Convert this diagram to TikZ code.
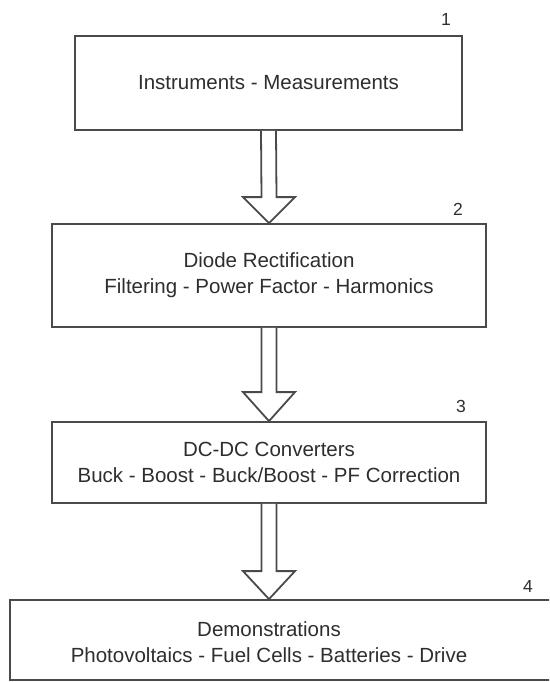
\documentclass[tikz,border=0pt]{standalone}
\usepackage{fontspec}
\setmainfont{Liberation Sans}
\usetikzlibrary{calc}
\definecolor{ln}{HTML}{4A4A4A}
\definecolor{tx}{HTML}{2E2E2E}
\tikzset{
  x=1pt,y=-1pt,
  stagebox/.style={draw=ln,line width=1.8pt,fill=white,inner sep=0pt,align=center,text=tx,font=\fontsize{20.5}{26}\selectfont},
  stagetext/.style={inner sep=0pt,align=center,text=tx,font=\fontsize{20.5}{26}\selectfont},
  numlabel/.style={inner sep=0pt,text=tx,font=\fontsize{17.5}{20}\selectfont},
  hollowarrow/.style={draw=ln,line width=1.8pt,fill=white,line join=miter}
}
\begin{document}
\begin{tikzpicture}
\useasboundingbox (0,0) rectangle (549,682);
\begin{scope}
\clip (0,0) rectangle (549,682);
\node[stagebox,minimum width=387pt,minimum height=94pt] (b1) at (268.5,83) {Instruments - Measurements};
\node[stagebox,minimum width=434pt,minimum height=103pt] (b2) at (269,275.5) {Diode Rectification\\Filtering - Power Factor - Harmonics};
\node[stagebox,minimum width=434pt,minimum height=81pt] (b3) at (269,462.5) {DC-DC Converters\\Buck - Boost - Buck/Boost - PF Correction};
\node[stagebox,minimum width=560pt,minimum height=80pt] (b4) at (290,640) {};
\node[stagetext] (t4) at (269,642) {Demonstrations\\Photovoltaics - Fuel Cells - Batteries - Drive};
\coordinate (b4top) at (b4.north -| t4);

\node[numlabel] (n1) at (446,19) {1};
\node[numlabel] (n2) at (458,209) {2};
\node[numlabel] (n3) at (461,406) {3};
\node[numlabel] (n4) at (528,586) {4};

\draw[hollowarrow] ($(b1.south)+(-7.5,0)$) -- ($(b2.north)+(-7.5,-26)$) -- ($(b2.north)+(-26,-26)$) -- (b2.north) -- ($(b2.north)+(26,-26)$) -- ($(b2.north)+(7.5,-26)$) -- ($(b1.south)+(7.5,0)$);
\draw[hollowarrow] ($(b2.south)+(-7.5,0)$) -- ($(b3.north)+(-7.5,-29)$) -- ($(b3.north)+(-26,-29)$) -- (b3.north) -- ($(b3.north)+(26,-29)$) -- ($(b3.north)+(7.5,-29)$) -- ($(b2.south)+(7.5,0)$);
\draw[hollowarrow] ($(b3.south)+(-7.5,0)$) -- ($(b4top)+(-7.5,-28)$) -- ($(b4top)+(-26,-28)$) -- (b4top) -- ($(b4top)+(26,-28)$) -- ($(b4top)+(7.5,-28)$) -- ($(b3.south)+(7.5,0)$);
\end{scope}
\end{tikzpicture}
\end{document}
